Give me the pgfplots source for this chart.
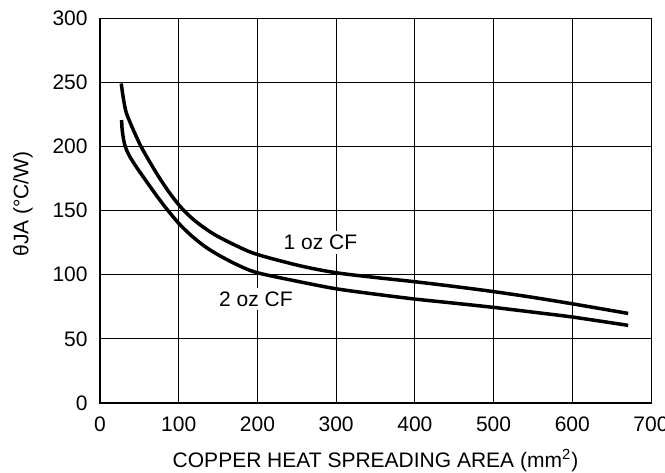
\documentclass[border=0pt]{standalone}
\usepackage{fontspec}
\setmainfont{Liberation Sans}
\usepackage{pgfplots}
\pgfplotsset{compat=1.18}

% theta_JA vs copper area
\pgfplotstableread{
x y
27 249
29.5 238
33 227
38 219
44 210.5
52 200
64 187
77 174
91 161.5
105 151
120 142.3
136 135
150 129.7
175 122
200 115.7
255 106.8
300 101.5
350 97.8
400 94.5
450 90.8
500 86.8
550 82.3
600 77.3
671 69.8
}\oneoz
\pgfplotstableread{
x y
27.5 220.5
28 214
29.5 207
32 200
37 193
45 185
57.5 174
72 161.5
85 151
100 140
115 131
132 122.5
150 115.5
175 107.5
200 101.5
255 94.3
300 89
350 84.8
400 81
450 77.8
500 74.5
550 70.8
600 67
671 60.5
}\twooz

\begin{document}
\fontsize{10.5}{12.6}\selectfont
\begin{tikzpicture}
\useasboundingbox (-50pt,-34.5pt) rectangle (282.5pt,201.5pt);
\begin{axis}[
  at={(0,0)}, anchor=south west,
  width=275.5pt, height=192.5pt, scale only axis,
  xmin=0, xmax=700, ymin=0, ymax=300,
  xtick={0,100,...,700}, ytick={0,50,...,300},
  grid=major, major grid style={black, line width=0.5pt},
  axis line style={black, line width=0.5pt},
  major tick length=0pt,
  tick label style={font=\fontsize{10.5}{12.6}\selectfont},
  /pgf/number format/assume math mode=true,
  xticklabel style={yshift=-3pt},
  yticklabel style={xshift=-2.5pt},
  label style={font=\fontsize{10.5}{12.6}\selectfont},
  xlabel={COPPER HEAT SPREADING AREA (mm\textsuperscript{2})},
  ylabel={θJA (°C/W)},
  xlabel style={at={(axis description cs:0.5,-0.1494)}, anchor=center},
  ylabel style={at={(axis description cs:-0.1398,0.517)}, anchor=center},
]
\addplot[black, line width=1.75pt, smooth] table {\oneoz};
\addplot[black, line width=1.75pt, smooth] table {\twooz};
\node[fill=white, inner sep=2pt] at (axis cs:280,125) {1 oz CF};
\node[fill=white, inner sep=2pt] at (axis cs:198,81) {2 oz CF};
\draw[black, line width=1pt] (rel axis cs:0,1) -- (rel axis cs:0,0) -- (rel axis cs:1,0);
\end{axis}
\end{tikzpicture}
\end{document}
